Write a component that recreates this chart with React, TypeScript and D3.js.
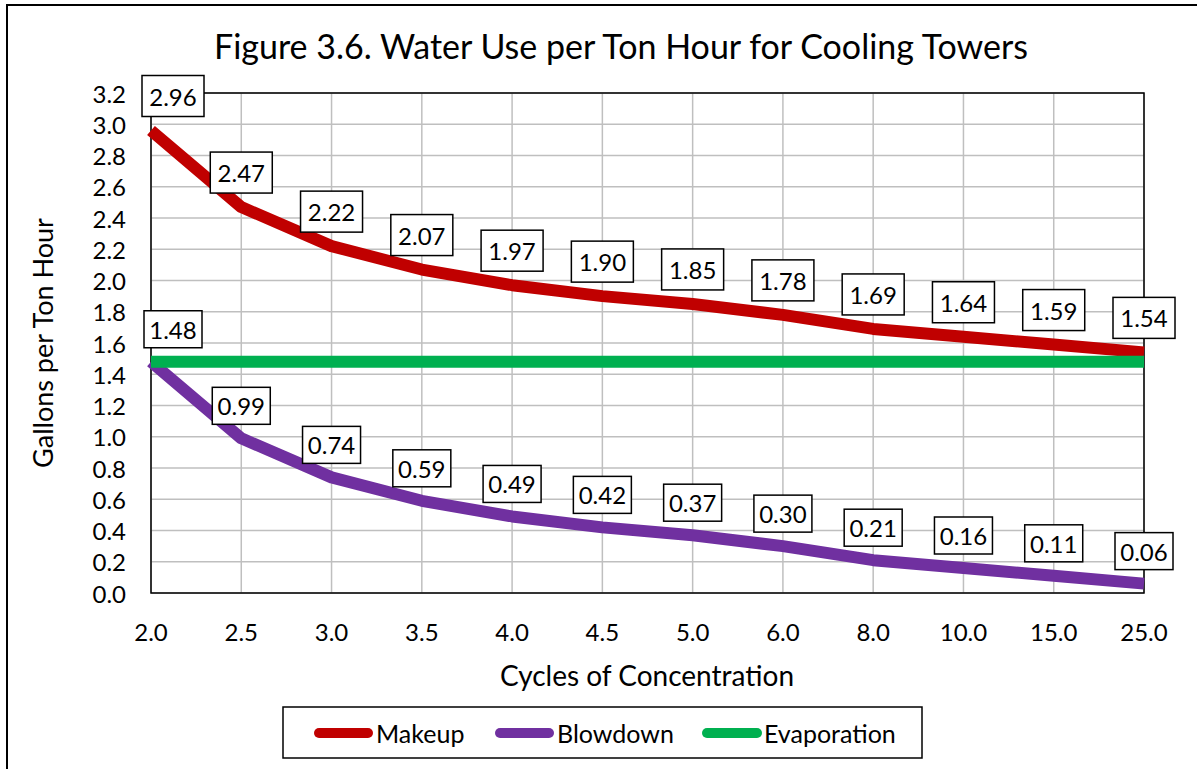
import React from 'react';
import * as d3 from 'd3';

const categories = ['2.0', '2.5', '3.0', '3.5', '4.0', '4.5', '5.0', '6.0', '8.0', '10.0', '15.0', '25.0'];
const makeup = [2.96, 2.47, 2.22, 2.07, 1.97, 1.9, 1.85, 1.78, 1.69, 1.64, 1.59, 1.54];
const blowdown = [1.48, 0.99, 0.74, 0.59, 0.49, 0.42, 0.37, 0.3, 0.21, 0.16, 0.11, 0.06];
const evaporation = [1.48, 1.48, 1.48, 1.48, 1.48, 1.48, 1.48, 1.48, 1.48, 1.48, 1.48, 1.48];
const yTicks = [0, 0.2, 0.4, 0.6, 0.8, 1.0, 1.2, 1.4, 1.6, 1.8, 2.0, 2.2, 2.4, 2.6, 2.8, 3.0, 3.2];
const seriesNames = ['Makeup', 'Blowdown', 'Evaporation'];
const seriesColors = ['#c00000', '#7030a0', '#00b050'];

const W = 1197;
const H = 769;
const FONT = "Lato, 'Open Sans', sans-serif";
const plot = { left: 151, right: 1144, top: 93, bottom: 593 };

export default function App() {
  const x = d3.scalePoint<string>().domain(categories).range([plot.left, plot.right]);
  const y = d3.scaleLinear().domain([0, 3.2]).range([plot.bottom, plot.top]);
  const line = d3
    .line<number>()
    .x((_, i) => x(categories[i]) as number)
    .y((d) => y(d));

  const series = [makeup, blowdown, evaporation];

  const labelSets = [
    { data: makeup, w: 62, h: 41 },
    { data: blowdown, w: 58, h: 37 },
  ];

  const legendItems = [
    { x1: 319, x2: 368, tx: 376 },
    { x1: 500, x2: 549, tx: 557 },
    { x1: 707, x2: 757, tx: 764 },
  ];

  return (
    <svg
      width={W}
      height={H}
      style={{ position: 'absolute', left: 0, top: 0, background: '#fff' }}
      fontFamily={FONT}
    >
      <rect x={0} y={0} width={W} height={H} fill="#fff" />
      <rect x={7} y={5} width={1220} height={800} fill="none" stroke="#000" strokeWidth={2} />

      <text x={621} y={45} textAnchor="middle" dominantBaseline="central" fontSize={34} fill="#000">
        Figure 3.6. Water Use per Ton Hour for Cooling Towers
      </text>

      {/* grid */}
      {yTicks.map((t) => (
        <line key={'h' + t} x1={plot.left} x2={plot.right} y1={y(t)} y2={y(t)} stroke="#bfbfbf" strokeWidth={1.5} />
      ))}
      {categories.map((c) => (
        <line key={'v' + c} x1={x(c)} x2={x(c)} y1={plot.top} y2={plot.bottom} stroke="#bfbfbf" strokeWidth={1.5} />
      ))}
      <rect
        x={plot.left}
        y={plot.top}
        width={plot.right - plot.left}
        height={plot.bottom - plot.top}
        fill="none"
        stroke="#000"
        strokeWidth={1.5}
      />

      {/* y ticks */}
      {yTicks.map((t) => (
        <text key={'yt' + t} x={126} y={y(t)} textAnchor="end" dominantBaseline="central" fontSize={24} fill="#000">
          {t.toFixed(1)}
        </text>
      ))}
      {/* x ticks */}
      {categories.map((c) => (
        <text key={'xt' + c} x={x(c)} y={631} textAnchor="middle" dominantBaseline="central" fontSize={24} fill="#000">
          {c}
        </text>
      ))}

      <text x={647} y={675} textAnchor="middle" dominantBaseline="central" fontSize={28} fill="#000">
        Cycles of Concentration
      </text>
      <text
        transform={`translate(42,343) rotate(-90)`}
        textAnchor="middle"
        dominantBaseline="central"
        fontSize={27}
        fill="#000"
      >
        Gallons per Ton Hour
      </text>

      {/* lines */}
      {series.map((s, i) => (
        <path
          key={'s' + i}
          d={line(s) as string}
          fill="none"
          stroke={seriesColors[i]}
          strokeWidth={12}
          strokeLinejoin="round"
          strokeLinecap="butt"
        />
      ))}

      {/* labels */}
      {labelSets.map((ls, si) =>
        ls.data.map((v, i) => {
          const px = (x(categories[i]) as number) + (i === 0 ? 22 : 0);
          const py = y(v);
          const bottom = py - 14;
          return (
            <g key={'l' + si + '-' + i}>
              <rect
                x={px - ls.w / 2}
                y={bottom - ls.h}
                width={ls.w}
                height={ls.h}
                fill="#fff"
                stroke="#000"
                strokeWidth={1.5}
              />
              <text x={px} y={bottom - ls.h / 2} textAnchor="middle" dominantBaseline="central" fontSize={24} fill="#000">
                {v.toFixed(2)}
              </text>
            </g>
          );
        })
      )}

      {/* legend */}
      <rect x={283} y={707} width={639} height={51} fill="#fff" stroke="#000" strokeWidth={1.5} />
      {legendItems.map((it, i) => (
        <g key={'lg' + i}>
          <line x1={it.x1} x2={it.x2} y1={733} y2={733} stroke={seriesColors[i]} strokeWidth={10} strokeLinecap="round" />
          <text x={it.tx} y={733} dominantBaseline="central" fontSize={25} fill="#000">
            {seriesNames[i]}
          </text>
        </g>
      ))}
    </svg>
  );
}
